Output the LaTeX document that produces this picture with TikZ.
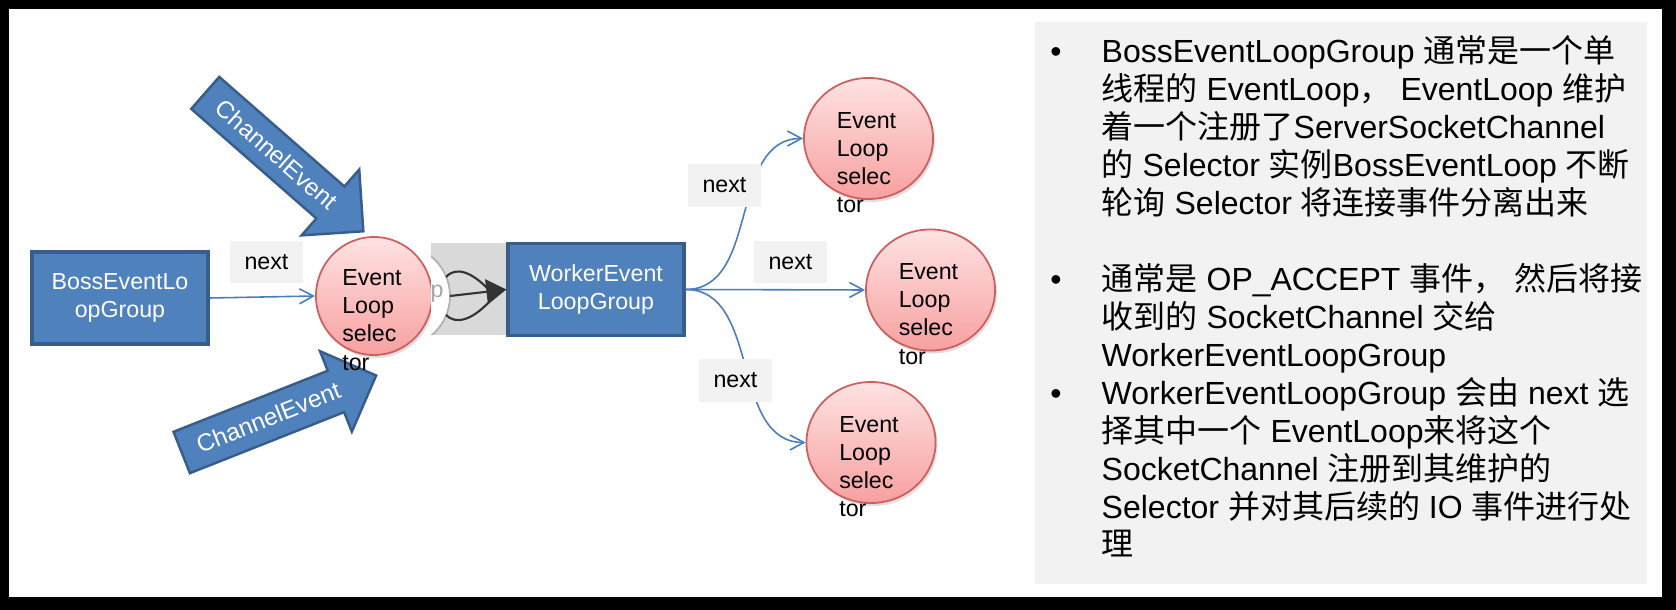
\documentclass[tikz,border=0pt]{standalone}
\usepackage{fontspec}
\setmainfont{Liberation Sans}
\newfontfamily\cjk{Noto Sans CJK SC}
\usetikzlibrary{arrows.meta,shapes.geometric,shapes.arrows,shadows}
\definecolor{boxblue}{RGB}{79,129,189}
\definecolor{boxline}{RGB}{56,93,138}
\definecolor{linkblue}{RGB}{74,126,187}
\definecolor{tagbg}{RGB}{242,242,242}
\definecolor{loopbg}{RGB}{217,217,217}
\definecolor{pinktop}{RGB}{255,226,226}
\definecolor{pinkbot}{RGB}{247,160,160}
\definecolor{pinkline}{RGB}{205,95,95}
\newcommand{\zh}[1]{{\cjk #1}}
\begin{document}
\begin{tikzpicture}[x=0.01cm, y=-0.01cm,
    group/.style={rectangle, fill=boxblue, draw=boxline, line width=0.9pt, text=white, align=center, font=\fontsize{6.6}{8}\selectfont, minimum width=1.76cm, minimum height=0.92cm},
    loopnode/.style={ellipse, top color=pinktop, bottom color=pinkbot, draw=pinkline, line width=0.5pt, drop shadow={opacity=0.25, shadow xshift=0.02cm, shadow yshift=-0.03cm}},
    looptext/.style={align=left, font=\fontsize{6.6}{8}\selectfont, xshift=-0.02cm, yshift=-0.24cm},
    tag/.style={fill=tagbg, font=\fontsize{6.6}{8}\selectfont, minimum width=0.73cm, minimum height=0.42cm, inner sep=0pt},
    link/.style={linkblue, line width=0.45pt, -{Straight Barb[length=1.4mm, width=1.5mm]}},
    event/.style={single arrow, fill=boxblue, draw=boxline, line width=0.7pt, text=white, font=\fontsize{6.9}{8}\selectfont, inner ysep=0pt, single arrow tip angle=90},
    panel/.style={align=left, inner sep=0pt, font=\fontsize{9.1}{10.8}\selectfont}]
      \fill[black] (0,0) rectangle (1676,610);
      \fill[white] (9,9) rectangle (1662,597);
      \fill[tagbg] (1035,22) rectangle (1647,584);

      \node[event, rotate=-41.2, minimum height=2.10cm, text height=0.28cm, text depth=0.12cm, single arrow head extend=0.225cm] (ce1) at (276.3,155.1) {ChannelEvent};
      \node[event, rotate=21.6, minimum height=2.09cm, text height=0.29cm, text depth=0.13cm, single arrow head extend=0.21cm] (ce2) at (268.6,418.1) {ChannelEvent};

      \node[group] (boss) at (120,298) {BossEventLo\\opGroup};
      \node[loopnode, minimum width=1.16cm, minimum height=1.18cm, label={[looptext]center:{Event\\Loop\\selec\\tor}}] (ev0) at (374,296) {};

      \fill[loopbg] (431,243) rectangle (508,335);
      \begin{scope}
        \clip (431,243) rectangle (508,335);
        \draw[gray!60, fill=white, line width=0.5pt] (399,296) circle[radius=51];
      \end{scope}
      \node[text=gray!70, font=\fontsize{6.6}{8}\selectfont, inner sep=0pt] (ptxt) at (437,294) {p};
      \draw[black!80, line width=0.6pt] (446,277) .. controls (456,266) and (472,272) .. (489,290);
      \draw[black!80, line width=0.6pt] (446,315) .. controls (456,325) and (472,320) .. (489,302);
      \coordinate (loopin) at (450,296);

      \node[group] (worker) at (596,289.5) {WorkerEvent\\LoopGroup};
      \draw[black!80, line width=0.6pt, -{Triangle[length=2mm, width=2.5mm]}] (loopin) -- (worker.west);

      \node[loopnode, minimum width=1.29cm, minimum height=1.21cm, label={[looptext]center:{Event\\Loop\\selec\\tor}}] (ev1) at (868.5,138.5) {};
      \node[loopnode, minimum width=1.29cm, minimum height=1.21cm, label={[looptext]center:{Event\\Loop\\selec\\tor}}] (ev2) at (930.5,290) {};
      \node[loopnode, minimum width=1.29cm, minimum height=1.21cm, label={[looptext]center:{Event\\Loop\\selec\\tor}}] (ev3) at (871,442.5) {};

      \draw[link] (boss.east) -- (ev0.west);
      \draw[link] (worker.east) to[out=0, in=180] (ev1.west);
      \draw[link] (worker.east) -- (ev2.west);
      \draw[link] (worker.east) to[out=0, in=180] (ev3.west);

      \node[tag] (nx0) at (266.5,262) {next};
      \node[tag] (nx1) at (724.5,185.5) {next};
      \node[tag] (nx2) at (790.5,262) {next};
      \node[tag] (nx3) at (735.5,380.5) {next};

      \node[panel, anchor=base west] (notes) at (1101,556) {\llap{•\hspace{0.4cm}}BossEventLoopGroup \zh{通常是一个单}\\
        \zh{线程的} EventLoop\zh{，} EventLoop \zh{维护}\\
        \zh{着一个注册了}ServerSocketChannel\\
        \zh{的} Selector \zh{实例}BossEventLoop \zh{不断}\\
        \zh{轮询} Selector \zh{将连接事件分离出来}\\[0.38cm]
        \llap{•\hspace{0.4cm}}\zh{通常是} OP\_ACCEPT \zh{事件，} \zh{然后将接}\\
        \zh{收到的} SocketChannel \zh{交给}\\
        WorkerEventLoopGroup\\
        \llap{•\hspace{0.4cm}}WorkerEventLoopGroup \zh{会由} next \zh{选}\\
        \zh{择其中一个} EventLoop\zh{来将这个}\\
        SocketChannel \zh{注册到其维护的}\\
        Selector \zh{并对其后续的} IO \zh{事件进行处}\\
        \zh{理}};
    \end{tikzpicture}
\end{document}
